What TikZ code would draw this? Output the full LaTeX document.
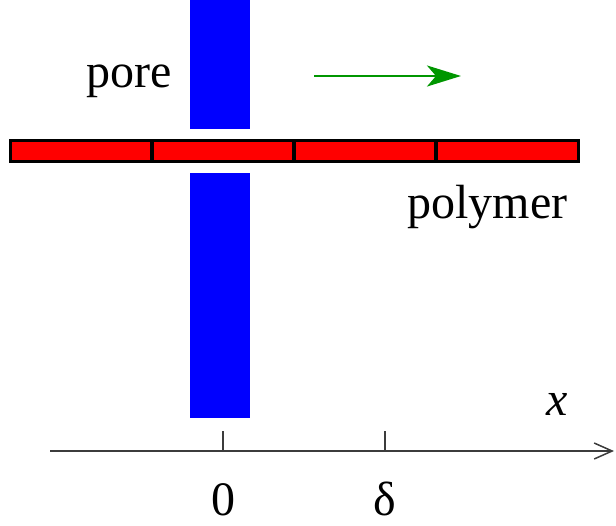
\documentclass[tikz,border=0pt]{standalone}
\usepackage{fontspec}
\setmainfont{LiberationSerif}[Extension=.ttf, UprightFont=*-Regular, ItalicFont=*-Italic, BoldFont=*-Bold]
\usetikzlibrary{arrows.meta}
\definecolor{poreblue}{RGB}{0,0,255}
\definecolor{polyred}{RGB}{255,0,0}
\definecolor{arrgreen}{RGB}{0,150,0}
\definecolor{axisgray}{RGB}{60,60,60}
\tikzset{
  porebar/.style={fill=poreblue, draw=none},
  segment/.style={fill=polyred, draw=black, line width=3.5pt},
  lbl/.style={inner sep=0pt, anchor=base, font=\fontsize{48}{56}\selectfont},
  axisline/.style={draw=axisgray, line width=1.3pt},
}
\begin{document}
\begin{tikzpicture}[x=1pt,y=-1pt]
\useasboundingbox (0,0) rectangle (616,525);
% pore walls
\fill[porebar] (190,0) rectangle (250,129);
\fill[porebar] (190,173) rectangle (250,418);
% polymer segments
\draw[segment] (10.5,140.5) rectangle (152,161.5);
\draw[segment] (152,140.5) rectangle (294,161.5);
\draw[segment] (294,140.5) rectangle (436,161.5);
\draw[segment] (436,140.5) rectangle (578.5,161.5);
% labels
\node[lbl] (pore) at (129,87) {pore};
\node[lbl] (polymer) at (487.5,218) {polymer};
% green arrow
\coordinate (ga) at (314,76);
\coordinate (gb) at (461,76);
\draw[arrgreen, line width=2.5pt, -{Stealth[length=34pt,width=21pt,inset=9pt]}] (ga) -- (gb);
% axis
\coordinate (ax0) at (50,451);
\coordinate (ax1) at (614,451);
\draw[axisline, -{Straight Barb[length=18pt,width=16pt,line width=1.5pt]}] (ax0) -- (ax1);
\coordinate (t0) at (223,451);
\coordinate (t0top) at (223,431);
\coordinate (t1) at (385,451);
\coordinate (t1top) at (385,431);
\draw[axisline] (t0) -- (t0top);
\draw[axisline] (t1) -- (t1top);
\node[lbl] (zero) at (223,515) {0};
\node[lbl] (delta) at (385,515) {δ};
\node[lbl] (xlab) at (557,415) {\itshape x};
\end{tikzpicture}
\end{document}
